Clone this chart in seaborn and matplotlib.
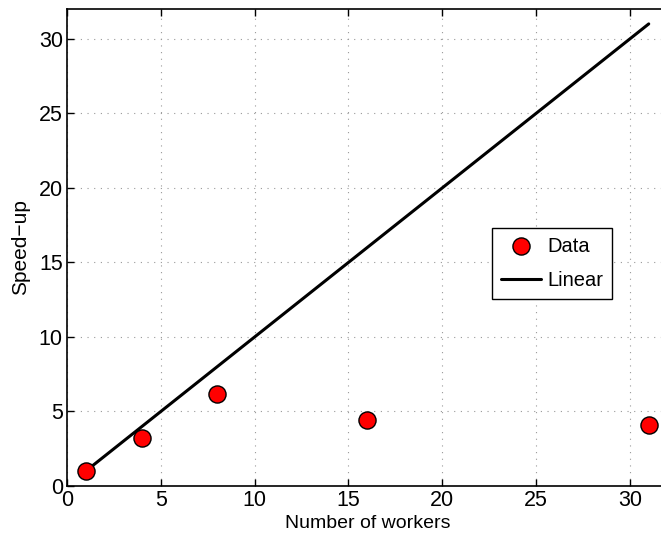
import matplotlib
matplotlib.use("Agg")
import matplotlib.pyplot as plt
import seaborn as sns
import pandas as pd

workers = [1, 4, 8, 16, 31]
speedup = [1.0, 3.2, 6.2, 4.4, 4.1]
linear_x = [1, 31]
linear_y = [1, 31]

sns.set_style("ticks")
plt.rcParams['font.family'] = ['Liberation Sans', 'DejaVu Sans']

fig = plt.figure(figsize=(6.61, 5.33), dpi=100)
ax = fig.add_axes([67/661, 47/533, 600.5/661, 477/533])

sns.lineplot(x=linear_x, y=linear_y, ax=ax, color='black', linewidth=2.2, label='Linear', zorder=2)
sns.scatterplot(x=workers, y=speedup, ax=ax, color='red', edgecolor='black', linewidth=1.0,
                s=152, label='Data', zorder=3)

ax.set_xlim(0, 32)
ax.set_ylim(0, 32)
ax.set_xticks([0, 5, 10, 15, 20, 25, 30])
ax.set_yticks([0, 5, 10, 15, 20, 25, 30])
ax.grid(True, linestyle=(0, (1, 5)), color='#999999', linewidth=0.8)
ax.tick_params(direction='in', labelsize=15.5, length=5, width=1, top=True, right=True,
               colors='black', labelcolor='black', pad=3)
for s in ax.spines.values():
    s.set_linewidth(1.2)
    s.set_color('black')
ax.set_xlabel('Number of workers', fontsize=14, labelpad=3, color='black')
ax.set_ylabel('Speed\u2212up', fontsize=15, labelpad=6, color='black')

handles, labels = ax.get_legend_handles_labels()
order = [labels.index('Data'), labels.index('Linear')]
leg = ax.legend([handles[i] for i in order], [labels[i] for i in order],
                loc='center', bbox_to_anchor=(0.808, 0.467), fontsize=14.5,
                frameon=True, fancybox=False, edgecolor='black', framealpha=1,
                handlelength=2.0, borderpad=0.45, labelspacing=0.75, handletextpad=0.3,
                markerscale=1.0)
leg.get_frame().set_linewidth(1.0)
for t in leg.get_texts():
    t.set_color('black')

fig.savefig('out.png', dpi=100)
